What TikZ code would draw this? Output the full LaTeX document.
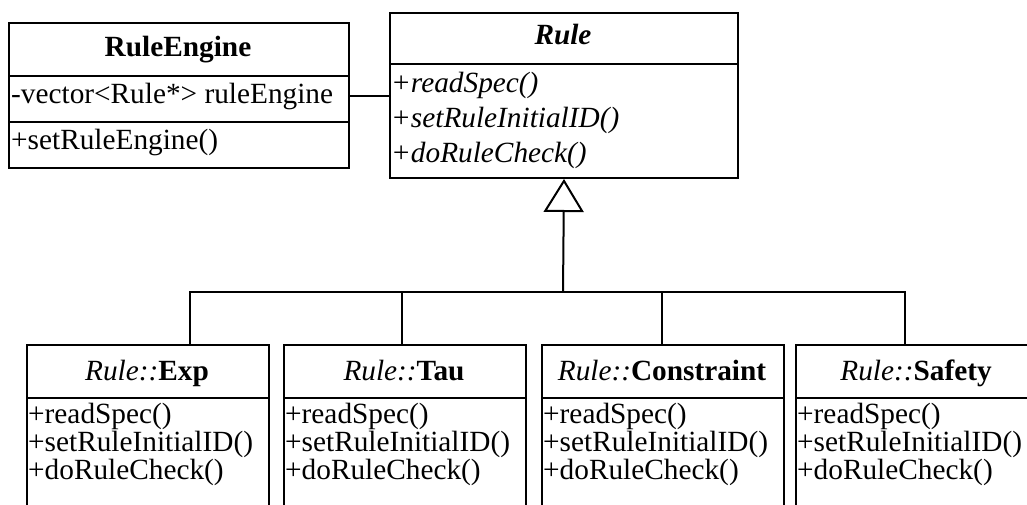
\documentclass[tikz,border=0pt]{standalone}
\usepackage{fontspec}
\setmainfont{Liberation Serif}
\usetikzlibrary{arrows.meta}

\begin{document}
\begin{tikzpicture}[x=1pt,y=-1pt,
  box/.style={draw, line width=2pt, inner sep=0pt, anchor=north west},
  lbl/.style={inner sep=0pt, anchor=base, font=\fontsize{29.3}{30}\selectfont},
  mem/.style={inner sep=0pt, anchor=base west, font=\fontsize{29.3}{30}\selectfont},
  link/.style={line width=2pt},
  inherit/.style={line width=2pt, -{Triangle[open, length=33pt, width=40pt, line width=2pt]}},
]
\useasboundingbox (0,0) rectangle (1027,505);

% RuleEngine class
\node[box, minimum width=340pt, minimum height=53pt] (reHead) at (8,22) {};
\node[box, minimum width=340pt, minimum height=46pt] (reAttr) at (8,75) {};
\node[box, minimum width=340pt, minimum height=46pt] (reOps) at (8,121) {};
\node[lbl] (reName) at (178,57) {\textbf{RuleEngine}};
\node[mem] (reA1) at (11,104) {-vector<Rule*> ruleEngine};
\node[mem] (reO1) at (11,150) {+setRuleEngine()};

% abstract Rule class
\node[box, minimum width=348pt, minimum height=51pt] (ruleHead) at (389,12) {};
\node[box, minimum width=348pt, minimum height=114pt] (ruleOps) at (389,63) {};
\node[lbl] (ruleName) at (563,45) {\textbf{\textit{Rule}}};
\node[mem] (ruleM1) at (391,93) {\textit{+readSpec()}};
\node[mem] (ruleM2) at (391,128) {\textit{+setRuleInitialID()}};
\node[mem] (ruleM3) at (391,163) {\textit{+doRuleCheck()}};

% association
\draw[link] ([yshift=3pt]reAttr.east) -- ([yshift=3pt]reAttr.east -| ruleOps.west);

% concrete rule classes
\foreach \n/\x/\t in {exp/26/Exp, tau/283/Tau, con/541/Constraint, saf/795/Safety}{
  \node[box, minimum width=242pt, minimum height=53pt] (\n-head) at (\x,344) {};
  \node[box, minimum width=242pt, minimum height=120pt] (\n-ops) at (\x,397) {};
  \node[lbl] (\n-name) at (\x+121,380) {\textit{Rule::}\textbf{\t}};
  \node[mem] (\n-m1) at (\x+2,423) {+readSpec()};
  \node[mem] (\n-m2) at (\x+2,451) {+setRuleInitialID()};
  \node[mem] (\n-m3) at (\x+2,479) {+doRuleCheck()};
}

% generalization tree
\coordinate (hub) at (563,292);
\coordinate (jE) at (190,292);
\coordinate (jT) at (402,292);
\coordinate (jC) at (662,292);
\coordinate (jS) at (905,292);
\draw[inherit] (hub) -- (ruleOps.south);
\draw[link] (jE |- exp-head.north) -- (jE) -- (jS) -- (jS |- saf-head.north);
\draw[link] (jT) -- (jT |- tau-head.north);
\draw[link] (jC) -- (jC |- con-head.north);
\end{tikzpicture}
\end{document}
